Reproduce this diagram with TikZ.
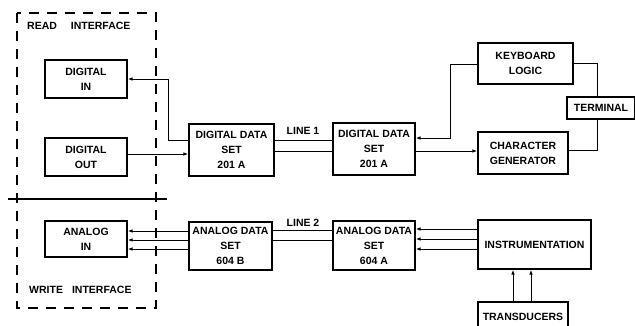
\documentclass[tikz,border=0pt]{standalone}
\usepackage{fontspec}
\setmainfont{Liberation Sans}
\usetikzlibrary{arrows.meta}
\begin{document}
\begin{tikzpicture}[x=1pt,y=-1pt,
  every node/.style={font=\fontsize{10.5}{15}\selectfont\bfseries},
  box/.style={draw,line width=1.1pt,align=center,inner sep=0pt},
  ln/.style={line width=1pt},
  arr/.style={line width=1pt,-{Latex[length=5pt,width=3.5pt]}},
  lbl/.style={inner sep=0pt}]
\useasboundingbox (0,0) rectangle (635,325);
\clip (0,0) rectangle (635,325);
% dashed interface frame
\draw[line width=1.2pt,dash pattern=on 10pt off 8pt] (17,13) rectangle (156,308);
\draw[line width=1.1pt] (8,199) -- (167,199);
\node[lbl,anchor=west] (rd) at (27,26) {READ\hspace{14pt}INTERFACE};
\node[lbl,anchor=west] (wr) at (29,290) {WRITE\hspace{9pt}INTERFACE};
% boxes
\node[box,minimum width=82pt,minimum height=38pt] (din) at (86,79) {DIGITAL\\IN};
\node[box,minimum width=82pt,minimum height=38pt] (dout) at (86,157) {DIGITAL\\OUT};
\node[box,minimum width=82pt,minimum height=36pt] (ain) at (86,239) {ANALOG\\IN};
\node[box,minimum width=85pt,minimum height=52pt] (dds1) at (231.5,150) {DIGITAL DATA\\SET\\201 A};
\node[box,minimum width=82pt,minimum height=52pt] (dds2) at (374,149) {DIGITAL DATA\\SET\\201 A};
\node[box,minimum width=83pt,minimum height=48pt] (ads1) at (230.5,246) {ANALOG DATA\\SET\\604 B};
\node[box,minimum width=82pt,minimum height=49pt] (ads2) at (374,245.5) {ANALOG DATA\\SET\\604 A};
\node[box,minimum width=95pt,minimum height=41pt] (kbd) at (525.5,63.5) {KEYBOARD\\LOGIC};
\node[box,minimum width=90pt,minimum height=42pt] (chg) at (523,153) {CHARACTER\\GENERATOR};
\node[box,minimum width=68pt,minimum height=22pt] (term) at (601,108) {TERMINAL};
\node[box,minimum width=113pt,minimum height=49pt] (instr) at (534.5,244.5) {INSTRUMENTATION};
\node[box,minimum width=90pt,minimum height=30pt,text depth=0pt] (trans) at (523,317) {TRANSDUCERS};
% line labels
\node[lbl] (l1) at (303,131) {LINE 1};
\node[lbl] (l2) at (303,223) {LINE 2};
% connectors
\draw[arr] (dds1.west |- 0,140) -- (168,140) -- (168,79) -- (din.east);
\draw[arr] (dout.east |- 0,154) -- (dds1.west |- 0,154);
\draw[ln] (dds1.east |- 0,140) -- (dds2.west |- 0,140);
\draw[ln] (dds1.east |- 0,151) -- (dds2.west |- 0,151);
\draw[arr] (kbd.west |- 0,64) -- (450,64) -- (450,138) -- (dds2.east |- 0,138);
\draw[arr] (dds2.east |- 0,151) -- (chg.west |- 0,151);
\draw[ln] (kbd.east |- 0,63) -- (597,63) -- (term.north -| 597,0);
\draw[ln] (term.south -| 597,0) -- (597,150) -- (chg.east |- 0,150);
\draw[ln] (ads1.east |- 0,230) -- (ads2.west |- 0,230);
\draw[ln] (ads1.east |- 0,240) -- (ads2.west |- 0,240);
\foreach \yy in {231,240,249} \draw[arr] (ads1.west |- 0,\yy) -- (ain.east |- 0,\yy);
\foreach \yy in {229,239,249} \draw[arr] (instr.west |- 0,\yy) -- (ads2.east |- 0,\yy);
\foreach \xx in {513,531} \draw[arr] (trans.north -| \xx,0) -- (instr.south -| \xx,0);
\end{tikzpicture}
\end{document}
